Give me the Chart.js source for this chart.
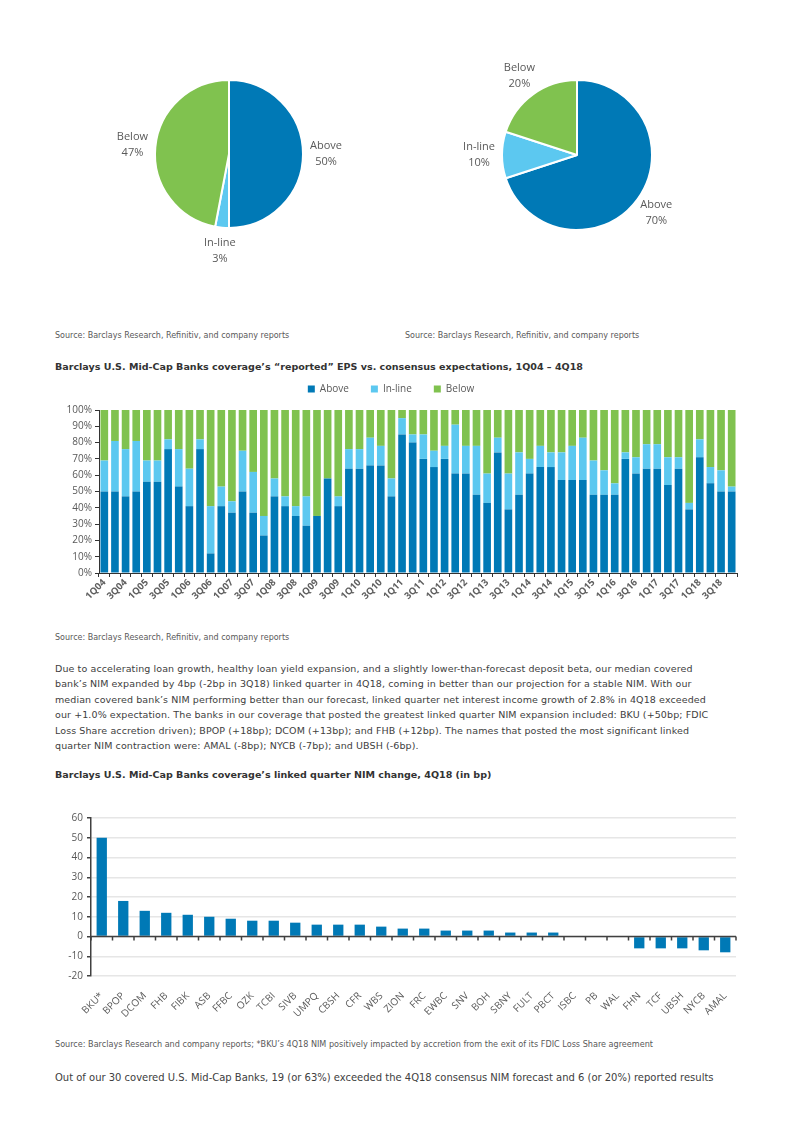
<!DOCTYPE html>
<html>
<head>
<meta charset="utf-8">
<script src="https://cdn.jsdelivr.net/npm/chart.js@4/dist/chart.umd.min.js"></script>
<style>
  body { margin: 0; background: #fff; width: 802px; height: 1134px; position: relative; overflow: hidden; }
  .t { position: absolute; white-space: pre; color: #404040; font-family: 'DejaVu Sans', Verdana, sans-serif; }
  .src { font-size: 8px; color: #595959; }
  .ttl { font-size: 9.55px; font-weight: bold; color: #333; }
  .para { font-size: 9.5px; line-height: 15.4px; letter-spacing: 0.1px; color: #404040; }
  .cond { font-family: 'DejaVu Sans Condensed', 'DejaVu Sans', sans-serif; }
  canvas { position: absolute; }
</style>
</head>
<body>
<canvas id="pieLeft" width="300" height="240" style="left:79px;top:44px"></canvas>
<canvas id="pieRight" width="300" height="220" style="left:427px;top:45px"></canvas>

<div class="t src" style="left:55px;top:331px">Source: Barclays Research, Refinitiv, and company reports</div>
<div class="t src" style="left:405px;top:331px">Source: Barclays Research, Refinitiv, and company reports</div>

<div class="t ttl" style="left:55px;top:361px">Barclays U.S. Mid-Cap Banks coverage’s “reported” EPS vs. consensus expectations, 1Q04 – 4Q18</div>
<canvas id="epsChart" width="710" height="247" style="left:45px;top:362px"></canvas>

<div class="t src" style="left:55px;top:633px">Source: Barclays Research, Refinitiv, and company reports</div>

<div class="t para" style="left:55px;top:661px">Due to accelerating loan growth, healthy loan yield expansion, and a slightly lower-than-forecast deposit beta, our median covered
bank’s NIM expanded by 4bp (-2bp in 3Q18) linked quarter in 4Q18, coming in better than our projection for a stable NIM. With our
median covered bank’s NIM performing better than our forecast, linked quarter net interest income growth of 2.8% in 4Q18 exceeded
our +1.0% expectation. The banks in our coverage that posted the greatest linked quarter NIM expansion included: BKU (+50bp; FDIC
Loss Share accretion driven); BPOP (+18bp); DCOM (+13bp); and FHB (+12bp). The names that posted the most significant linked
quarter NIM contraction were: AMAL (-8bp); NYCB (-7bp); and UBSH (-6bp).</div>

<div class="t ttl" style="left:55px;top:769px">Barclays U.S. Mid-Cap Banks coverage’s linked quarter NIM change, 4Q18 (in bp)</div>
<canvas id="nimChart" width="710" height="218" style="left:45px;top:808px"></canvas>

<div class="t src cond" style="left:55px;top:1039px;font-size:9px">Source: Barclays Research and company reports; *BKU’s 4Q18 NIM positively impacted by accretion from the exit of its FDIC Loss Share agreement</div>
<div class="t cond" style="left:55px;top:1071px;font-size:11.1px;color:#404040">Out of our 30 covered U.S. Mid-Cap Banks, 19 (or 63%) exceeded the 4Q18 consensus NIM forecast and 6 (or 20%) reported results</div>

<script>
// ---- data ----
const resultTypes = ['Above', 'In-line', 'Below'];
const pieLeftValues = [50, 3, 47];
const pieRightValues = [70, 10, 20];

const quarters = ['1Q04','2Q04','3Q04','4Q04','1Q05','2Q05','3Q05','4Q05','1Q06','2Q06','3Q06','4Q06',
  '1Q07','2Q07','3Q07','4Q07','1Q08','2Q08','3Q08','4Q08','1Q09','2Q09','3Q09','4Q09',
  '1Q10','2Q10','3Q10','4Q10','1Q11','2Q11','3Q11','4Q11','1Q12','2Q12','3Q12','4Q12',
  '1Q13','2Q13','3Q13','4Q13','1Q14','2Q14','3Q14','4Q14','1Q15','2Q15','3Q15','4Q15',
  '1Q16','2Q16','3Q16','4Q16','1Q17','2Q17','3Q17','4Q17','1Q18','2Q18','3Q18','4Q18'];
const abovePct = [50,50,47,50,56,56,76,53,41,76,12,41, 37,50,37,23,47,41,35,29,35,58,41,64,
  64,66,66,47,85,80,70,65,70,61,61,48, 43,74,39,48,61,65,65,57,57,57,48,48,
  48,70,61,64,64,54,64,39,71,55,50,50];
const inlinePct = [19,31,29,31,13,13,6,23,23,6,29,12, 7,25,25,12,11,6,6,18,0,0,6,12,
  12,17,12,11,10,5,15,10,8,30,17,30, 18,9,22,26,9,13,9,17,21,26,21,15,
  7,4,10,15,15,17,7,4,11,10,13,3];
const belowPct = [31,19,24,19,31,31,18,24,36,18,59,47, 56,25,38,65,42,53,59,53,65,42,53,24,
  24,17,22,42,5,15,15,25,22,9,22,22, 39,17,39,26,30,22,26,26,22,17,31,37,
  45,26,29,21,21,29,29,57,18,35,37,47];

const banks = ['BKU*','BPOP','DCOM','FHB','FIBK','ASB','FFBC','OZK','TCBI','SIVB','UMPQ','CBSH','CFR','WBS','ZION',
  'FRC','EWBC','SNV','BOH','SBNY','FULT','PBCT','ISBC','PB','WAL','FHN','TCF','UBSH','NYCB','AMAL'];
const nimChangeBp = [50,18,13,12,11,10,9,8,8,7,6,6,6,5,4, 4,3,3,3,2,2,2,0,0,0,-6,-6,-6,-7,-8];

const colors = ['#0079B6', '#5CC8F0', '#80C24F'];
const textGrey = '#595959';

Chart.defaults.font.family = "'Open Sans', 'DejaVu Sans', sans-serif";
Chart.defaults.color = textGrey;

// labels outside the pie slices
const pieLabels = {
    id: 'pieLabels',
    afterDraw(chart) {
        const ctx = chart.ctx;
        const meta = chart.getDatasetMeta(0);
        ctx.save();
        ctx.font = "11px 'Open Sans', sans-serif";
        ctx.fillStyle = textGrey;
        ctx.textAlign = 'center';
        ctx.textBaseline = 'middle';
        meta.data.forEach(function(arc, i) {
            const mid = (arc.startAngle + arc.endAngle) / 2;
            const r = arc.outerRadius + 23;
            const x = arc.x + Math.cos(mid) * r;
            const y = arc.y + Math.sin(mid) * r;
            ctx.fillText(chart.data.labels[i], x, y - 8);
            ctx.fillText(chart.data.datasets[0].data[i] + '%', x, y + 8);
        });
        ctx.restore();
    }
};

function makePie(id, values, pad) {
    new Chart(document.getElementById(id).getContext('2d'), {
        type: 'pie',
        data: {
            labels: resultTypes,
            datasets: [{ data: values, backgroundColor: colors, borderColor: '#fff', borderWidth: 2 }]
        },
        options: {
            responsive: false,
            animation: false,
            layout: { padding: pad },
            plugins: { legend: { display: false }, tooltip: { enabled: false } }
        },
        plugins: [pieLabels]
    });
}
makePie('pieLeft', pieLeftValues, { top: 35, bottom: 55, left: 75, right: 75 });
makePie('pieRight', pieRightValues, { top: 34, bottom: 34, left: 74, right: 74 });

// a little extra room under the legend
const legendGap = {
    id: 'legendGap',
    beforeInit(chart) {
        const fit = chart.legend.fit;
        chart.legend.fit = function() {
            fit.bind(chart.legend)();
            this.height += 6;
        };
    }
};

// Stacked EPS chart
new Chart(document.getElementById('epsChart').getContext('2d'), {
    type: 'bar',
    data: {
        labels: quarters,
        datasets: [
            { label: resultTypes[0], data: abovePct, backgroundColor: colors[0] },
            { label: resultTypes[1], data: inlinePct, backgroundColor: colors[1] },
            { label: resultTypes[2], data: belowPct, backgroundColor: colors[2] }
        ]
    },
    options: {
        responsive: false,
        animation: false,
        layout: { padding: { right: 18, left: 0 } },
        plugins: {
            tooltip: { enabled: false },
            legend: {
                labels: { boxWidth: 7, boxHeight: 7, padding: 22, font: { size: 10 }, color: textGrey }
            }
        },
        datasets: { bar: { barPercentage: 1, categoryPercentage: 0.72 } },
        scales: {
            x: {
                stacked: true,
                grid: { display: true, drawOnChartArea: false, drawTicks: true, tickLength: 4, color: '#333', offset: true },
                border: { display: true, color: '#333' },
                ticks: {
                    autoSkip: false, maxRotation: 45, minRotation: 45, padding: 0,
                    font: { size: 9.5, weight: 'bold' }, color: '#5f5f5f',
                    callback: function(v, i) { return i % 2 === 0 ? quarters[i] : ''; }
                },
                afterFit: function(s) { s.height = 36; }
            },
            y: {
                stacked: true, min: 0, max: 100,
                grid: { display: true, drawOnChartArea: false, tickLength: 4, color: '#333' },
                border: { display: true, color: '#333' },
                ticks: { stepSize: 10, font: { size: 10 }, padding: 3, callback: function(v) { return v + '%'; } },
                afterFit: function(s) { s.width = 54; }
            }
        }
    },
    plugins: [legendGap]
});

// zero line with category ticks for NIM chart
const zeroLine = {
    id: 'zeroLine',
    afterDatasetsDraw(chart) {
        const ctx = chart.ctx, x = chart.scales.x, y = chart.scales.y;
        const y0 = y.getPixelForValue(0);
        ctx.save();
        ctx.strokeStyle = '#404040';
        ctx.lineWidth = 1.5;
        ctx.beginPath();
        ctx.moveTo(chart.chartArea.left, y0);
        ctx.lineTo(chart.chartArea.right, y0);
        const half = (x.getPixelForValue(1) - x.getPixelForValue(0)) / 2;
        for (let i = 0; i <= banks.length; i++) {
            const px = x.getPixelForValue(i) - half;
            ctx.moveTo(px, y0);
            ctx.lineTo(px, y0 + 4);
        }
        ctx.stroke();
        ctx.restore();
    }
};

new Chart(document.getElementById('nimChart').getContext('2d'), {
    type: 'bar',
    data: {
        labels: banks,
        datasets: [{ data: nimChangeBp, backgroundColor: colors[0] }]
    },
    options: {
        responsive: false,
        animation: false,
        layout: { padding: { top: 6, right: 19 } },
        plugins: { legend: { display: false }, tooltip: { enabled: false } },
        datasets: { bar: { barPercentage: 0.48, categoryPercentage: 1 } },
        scales: {
            x: {
                grid: { display: false },
                border: { display: false },
                ticks: { autoSkip: false, maxRotation: 45, minRotation: 45, font: { size: 10 }, padding: 6 },
                afterFit: function(s) { s.height = 50; }
            },
            y: {
                min: -20, max: 60,
                grid: { color: '#e6e6e6', lineWidth: 1.5, tickColor: '#404040', tickLength: 4 },
                border: { display: true, color: '#404040', width: 1.5 },
                ticks: { stepSize: 10, font: { size: 10 }, padding: 4 },
                afterFit: function(s) { s.width = 46; }
            }
        }
    },
    plugins: [zeroLine]
});
</script>
</body>
</html>
